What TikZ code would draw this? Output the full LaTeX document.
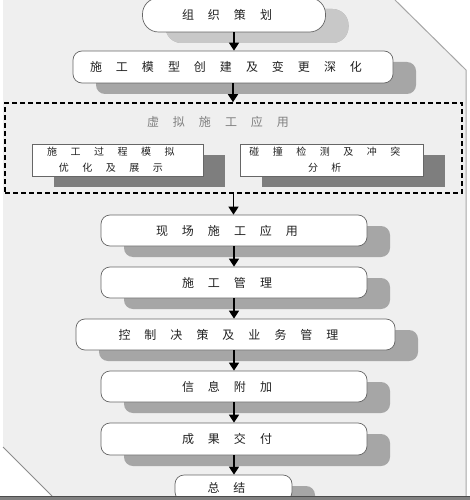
\documentclass[tikz,border=0pt]{standalone}
\usepackage{fontspec}
\newfontfamily\cjk{Noto Sans CJK SC}
\usetikzlibrary{shadows,arrows.meta}
\makeatletter
\newcommand\spreadtxt[2]{\@tfor\spr@c:=#2\do{\spr@c\hspace*{#1}}}
\makeatother
\newcommand\mt[1]{\spreadtxt{14pt}{#1}}
\newcommand\st[1]{\spreadtxt{13.5pt}{#1}}
\definecolor{bg}{HTML}{EFEFEF}
\definecolor{shmain}{HTML}{A6A6A6}
\definecolor{shlight}{HTML}{C8C8C8}
\definecolor{shdark}{HTML}{7E7E7E}
\definecolor{txt}{HTML}{222222}
\tikzset{
  mainbox/.style={draw=black!60, line width=0.7pt, fill=white, rounded corners=9pt,
    inner sep=0pt, font=\cjk\fontsize{12}{14}\selectfont, text=txt,
    general shadow={fill=shmain, shadow xshift=23pt, shadow yshift=-11pt}},
  subbox/.style={draw=black!60, line width=0.7pt, fill=white, inner sep=0pt,
    align=center, font=\cjk\fontsize{10}{16}\selectfont, text=txt,
    general shadow={fill=shdark, shadow xshift=22pt, shadow yshift=-11pt}},
  arr/.style={line width=1.5pt, -{Triangle[width=10pt,length=8pt]}},
}
\begin{document}
\begin{tikzpicture}[x=1pt,y=-1pt]
\useasboundingbox (0,0) rectangle (470,500);
\clip (0,0) rectangle (470,500);
\fill[white] (0,0) rectangle (470,500);
\fill[bg] (3,0) -- (395,0) -- (466,70) -- (466,496) -- (52,496) -- (3,447) -- cycle;
\draw[black!35, line width=1pt] (395,0) -- (466,70) -- (466,496);
\draw[black!45, line width=1pt] (3,447) -- (52,496);
% nodes
\node[mainbox, rounded corners=16pt, minimum width=183pt, minimum height=34pt,
  general shadow={fill=shlight, shadow xshift=23pt, shadow yshift=-11pt}] (n1) at (234,15) {\mt{组织策划}};
\node[mainbox, minimum width=320pt, minimum height=32pt] (n2) at (233,67) {\mt{施工模型创建及变更深化}};
\node[draw=black, line width=1.6pt, dash pattern=on 5pt off 3pt, minimum width=457pt, minimum height=90pt, inner sep=0pt] (vb) at (233.5,148) {};
\node[font=\cjk\fontsize{12}{14}\selectfont, text=black!50, inner sep=0pt] (vt) at (225,122) {\mt{虚拟施工应用}};
\node[subbox, minimum width=171pt, minimum height=32pt] (s1) at (117.5,160) {\st{施工过程模拟}\\\st{优化及展示}};
\node[subbox, minimum width=183pt, minimum height=32pt] (s2) at (331.5,160) {\st{碰撞检测及冲突}\\\st{分析}};
\node[mainbox, minimum width=266pt, minimum height=31pt] (n3) at (234,230.5) {\mt{现场施工应用}};
\node[mainbox, minimum width=266pt, minimum height=31pt] (n4) at (234,282.5) {\mt{施工管理}};
\node[mainbox, minimum width=319pt, minimum height=31pt] (n5) at (235.5,334.5) {\mt{控制决策及业务管理}};
\node[mainbox, minimum width=266pt, minimum height=31pt] (n6) at (234,386.5) {\mt{信息附加}};
\node[mainbox, minimum width=266pt, minimum height=32pt] (n7) at (234,439) {\mt{成果交付}};
\node[mainbox, minimum width=117pt, minimum height=26pt] (n8) at (233.5,488) {\mt{总结}};
% arrows
\draw[arr] (n1.south) -- (n1.south |- n2.north);
\draw[arr] (n2.south) -- (n2.south |- vb.north);
\draw[arr] (vb.south) -- (vb.south |- n3.north);
\draw[arr] (n3.south) -- (n3.south |- n4.north);
\draw[arr] (n4.south) -- (n4.south |- n5.north);
\draw[arr] (n5.south -| n4.south) -- (n4.south |- n6.north);
\draw[arr] (n6.south) -- (n6.south |- n7.north);
\draw[arr] (n7.south) -- (n7.south |- n8.north);
% bottom strip
\fill[black!50] (0,496) rectangle (470,500);
\draw[black!70, line width=1pt] (0,496.5) -- (470,496.5);
\end{tikzpicture}
\end{document}
